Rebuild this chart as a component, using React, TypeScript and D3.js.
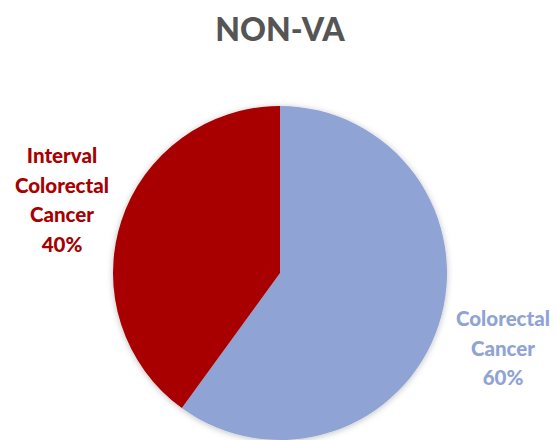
import { pie, arc } from 'd3';

const categories = ['Colorectal Cancer', 'Interval Colorectal Cancer'];
const values = [60, 40];
const colors = ['#8FA3D4', '#A80000'];
const labelLines = [['Colorectal', 'Cancer', '60%'], ['Interval', 'Colorectal', 'Cancer', '40%']];

const width = 556;
const height = 440;
const cx = 280;
const cy = 273;
const radius = 167;

const labelPos = [
  { x: 503, y: 326 },
  { x: 62, y: 163 },
];

const App = () => {
  const slices = pie<number>().sort(null).value(d => d)(values);
  const pieArc = arc<any>().innerRadius(0).outerRadius(radius);

  return (
    <svg width={width} height={height} style={{ position: 'absolute', left: 0, top: 0, background: '#fff' }}>
      <defs>
        <filter id="shadow" x="-10%" y="-10%" width="120%" height="120%">
          <feDropShadow dx="0" dy="1" stdDeviation="3" floodColor="#000" floodOpacity="0.25" />
        </filter>
      </defs>
      <text x={280} y={41} textAnchor="middle" fontFamily="Lato, 'Open Sans', sans-serif" fontWeight="900" fontSize={32} fill="#555555">
        NON-VA
      </text>
      <g transform={`translate(${cx},${cy})`} filter="url(#shadow)">
        {slices.map((d, i) => (
          <path key={categories[i]} d={pieArc(d) || ''} fill={colors[i]} />
        ))}
      </g>
      {labelLines.map((lines, i) => (
        <text key={i} textAnchor="middle" fontFamily="Lato, 'Open Sans', sans-serif" fontWeight="900" fontSize={20.5} fill={colors[i]}>
          {lines.map((t, j) => (
            <tspan key={j} x={labelPos[i].x} y={labelPos[i].y + j * 29.5}>{t}</tspan>
          ))}
        </text>
      ))}
    </svg>
  );
};

export default App;
